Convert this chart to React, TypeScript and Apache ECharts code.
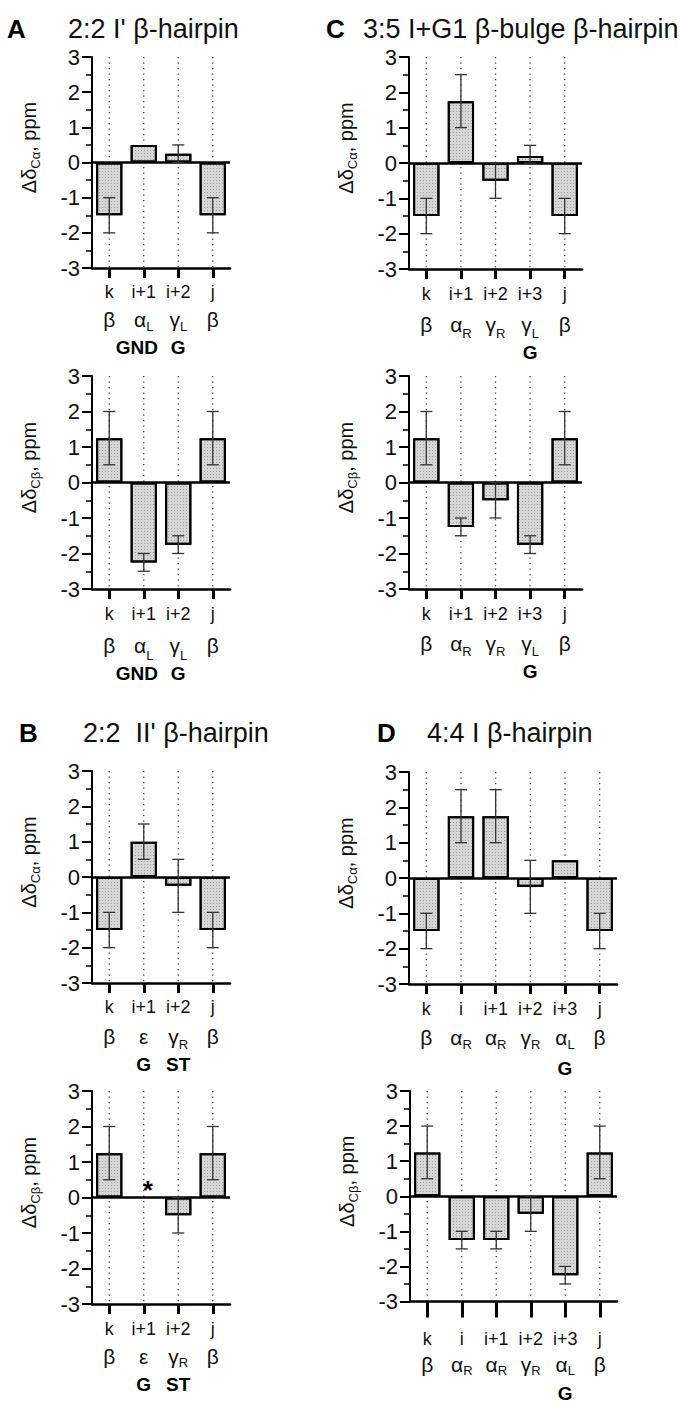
import React, { useEffect, useRef } from 'react';
import * as echarts from 'echarts';

const FONT = '"Liberation Sans", Arial, Helvetica, sans-serif';

// ---------- Panel A: 2:2 I' beta-hairpin ----------
const catsA = ['k', 'i+1', 'i+2', 'j'];
const confA = ['β', 'α_L', 'γ_L', 'β'];
const boldA = ['', 'GND', 'G', ''];
const caA = [-1.5, 0.5, 0.25, -1.5];
const caA_lo = [-2, null, 0, -2];
const caA_hi = [-1, null, 0.5, -1];
const cbA = [1.25, -2.25, -1.75, 1.25];
const cbA_lo = [0.5, -2.5, -2, 0.5];
const cbA_hi = [2, -2, -1.5, 2];

// ---------- Panel C: 3:5 I+G1 beta-bulge beta-hairpin ----------
const catsC = ['k', 'i+1', 'i+2', 'i+3', 'j'];
const confC = ['β', 'α_R', 'γ_R', 'γ_L', 'β'];
const boldC = ['', '', '', 'G', ''];
const caC = [-1.5, 1.75, -0.5, 0.2, -1.5];
const caC_lo = [-2, 1, -1, 0, -2];
const caC_hi = [-1, 2.5, 0, 0.5, -1];
const cbC = [1.25, -1.25, -0.5, -1.75, 1.25];
const cbC_lo = [0.5, -1.5, -1, -2, 0.5];
const cbC_hi = [2, -1, 0, -1.5, 2];

// ---------- Panel B: 2:2 II' beta-hairpin ----------
const catsB = ['k', 'i+1', 'i+2', 'j'];
const confB = ['β', 'ε', 'γ_R', 'β'];
const boldB = ['', 'G', 'ST', ''];
const caB = [-1.5, 1.0, -0.25, -1.5];
const caB_lo = [-2, 0.5, -1, -2];
const caB_hi = [-1, 1.5, 0.5, -1];
const cbB = [1.25, null, -0.5, 1.25];
const cbB_lo = [0.5, null, -1, 0.5];
const cbB_hi = [2, null, 0, 2];
const cbB_star = [null, 0.35, null, null];

// ---------- Panel D: 4:4 I beta-hairpin ----------
const catsD = ['k', 'i', 'i+1', 'i+2', 'i+3', 'j'];
const confD = ['β', 'α_R', 'α_R', 'γ_R', 'α_L', 'β'];
const boldD = ['', '', '', '', 'G', ''];
const caD = [-1.5, 1.75, 1.75, -0.25, 0.5, -1.5];
const caD_lo = [-2, 1, 1, -1, null, -2];
const caD_hi = [-1, 2.5, 2.5, 0.5, null, -1];
const cbD = [1.25, -1.25, -1.25, -0.5, -2.25, 1.25];
const cbD_lo = [0.5, -1.5, -1.5, -1, -2.5, 0.5];
const cbD_hi = [2, -1, -1, 0, -2, 2];

const titles = [
  { letter: 'A', text: "2:2 I' β-hairpin", lx: 7, tx: 68, y: 29 },
  { letter: 'C', text: '3:5 I+G1 β-bulge β-hairpin', lx: 326, tx: 363, y: 29 },
  { letter: 'B', text: "2:2  II' β-hairpin", lx: 19, tx: 83, y: 733 },
  { letter: 'D', text: '4:4 I β-hairpin', lx: 377, tx: 427, y: 733 },
];

type Panel = {
  cats: string[]; conf: string[]; bold: string[];
  vals: (number | null)[]; lo: (number | null)[]; hi: (number | null)[];
  star?: (number | null)[];
  nuc: 'α' | 'β';
  grid: { left: number; top: number; width: number; height: number };
  margin: number; lh: number[]; tickLen: number;
};

const panels: Panel[] = [
  { cats: catsA, conf: confA, bold: boldA, vals: caA, lo: caA_lo, hi: caA_hi, nuc: 'α',
    grid: { left: 92, top: 57, width: 138, height: 211 }, margin: 10, lh: [28, 27, 28], tickLen: 10 },
  { cats: catsA, conf: confA, bold: boldA, vals: cbA, lo: cbA_lo, hi: cbA_hi, nuc: 'β',
    grid: { left: 92, top: 376, width: 138, height: 213 }, margin: 11, lh: [28, 34, 22], tickLen: 10 },
  { cats: catsC, conf: confC, bold: boldC, vals: caC, lo: caC_lo, hi: caC_hi, nuc: 'α',
    grid: { left: 409, top: 57, width: 173, height: 212 }, margin: 11, lh: [28, 32, 24], tickLen: 10 },
  { cats: catsC, conf: confC, bold: boldC, vals: cbC, lo: cbC_lo, hi: cbC_hi, nuc: 'β',
    grid: { left: 409, top: 376, width: 173, height: 213 }, margin: 11, lh: [28, 30, 26], tickLen: 10 },
  { cats: catsB, conf: confB, bold: boldB, vals: caB, lo: caB_lo, hi: caB_hi, nuc: 'α',
    grid: { left: 92, top: 771, width: 138, height: 212 }, margin: 10, lh: [28, 30, 26], tickLen: 10 },
  { cats: catsB, conf: confB, bold: boldB, vals: cbB, lo: cbB_lo, hi: cbB_hi, star: cbB_star, nuc: 'β',
    grid: { left: 92, top: 1091, width: 138, height: 213 }, margin: 11, lh: [28, 26, 30], tickLen: 10 },
  { cats: catsD, conf: confD, bold: boldD, vals: caD, lo: caD_lo, hi: caD_hi, nuc: 'α',
    grid: { left: 409, top: 772, width: 208, height: 212 }, margin: 11, lh: [28, 28, 34], tickLen: 10 },
  { cats: catsD, conf: confD, bold: boldD, vals: cbD, lo: cbD_lo, hi: cbD_hi, nuc: 'β',
    grid: { left: 410, top: 1091, width: 207, height: 213 }, margin: 23, lh: [28, 24, 34], tickLen: 16 },
];

function buildOption() {
  const grid: any[] = [];
  const xAxis: any[] = [];
  const yAxis: any[] = [];
  const series: any[] = [];

  panels.forEach((p, i) => {
    grid.push({ ...p.grid, containLabel: false });
    xAxis.push({
      type: 'category', gridIndex: i, data: p.cats, position: 'bottom',
      axisLine: { show: true, onZero: false, lineStyle: { color: '#000', width: 2.5 } },
      axisTick: { show: true, alignWithLabel: true, interval: 0, length: p.tickLen, lineStyle: { color: '#000', width: 3 } },
      splitLine: { show: false },
      axisLabel: {
        interval: 0, margin: p.margin, color: '#111',
        formatter: (v: string, idx: number) => {
          const parts = p.conf[idx].split('_');
          let s = `{c|${v}}\n{g|${parts[0]}}`;
          if (parts[1]) s += `{s|${parts[1]}}`;
          const bt = p.bold[idx] || ' ';
          s += `\n{${bt.length >= 3 ? 'bw' : 'b'}|${bt}}`;
          return s;
        },
        rich: {
          c: { fontFamily: FONT, fontSize: 18, lineHeight: p.lh[0], color: '#111' },
          g: { fontFamily: FONT, fontSize: 21, lineHeight: p.lh[1], color: '#111' },
          s: { fontFamily: FONT, fontSize: 13, verticalAlign: 'bottom', color: '#111' },
          b: { fontFamily: FONT, fontSize: 19, fontWeight: 'bold', lineHeight: p.lh[2], color: '#000' },
          bw: { fontFamily: FONT, fontSize: 19, fontWeight: 'bold', lineHeight: p.lh[2], color: '#000', padding: [0, 14, 0, 0] },
        },
      },
    });
    yAxis.push({
      type: 'value', gridIndex: i, min: -3, max: 3, interval: 1,
      axisLine: { show: true, lineStyle: { color: '#000', width: 2 } },
      axisTick: { show: true, length: 10, lineStyle: { color: '#000', width: 2 } },
      minorTick: { show: true, splitNumber: 2, length: 6, lineStyle: { color: '#000', width: 1.5 } },
      splitLine: { show: false },
      axisLabel: { fontFamily: FONT, fontSize: 22, color: '#111', margin: 12 },
      name: `{d|Δδ}{s|C${p.nuc}}{d|, ppm}`,
      nameLocation: 'middle', nameGap: 50, nameRotate: 90,
      nameTextStyle: {
        padding: [0, 0, 0, 30],
        rich: {
          d: { fontFamily: FONT, fontSize: 20, lineHeight: 26, color: '#111' },
          s: { fontFamily: FONT, fontSize: 13, verticalAlign: 'bottom', color: '#111' },
        },
      },
    });

    // dotted vertical guide lines at each category
    series.push({
      type: 'custom', xAxisIndex: i, yAxisIndex: i, z: 1, silent: true,
      data: p.cats.map((_, j) => [j]),
      renderItem: (params: any, api: any) => {
        const j = api.value(0);
        const top = api.coord([j, 3]);
        const bot = api.coord([j, -3]);
        return {
          type: 'line',
          shape: { x1: top[0], y1: top[1], x2: bot[0], y2: bot[1] },
          style: { stroke: '#444', lineWidth: 1.3, lineDash: [1.3, 4.2] },
        };
      },
    });

    // bars
    series.push({
      type: 'bar', xAxisIndex: i, yAxisIndex: i, z: 2, barWidth: '76%',
      data: p.vals,
      itemStyle: {
        color: '#d6d6d6', borderColor: '#000', borderWidth: 2,
        decal: {
          symbol: 'rect', symbolSize: 1, color: 'rgba(60,60,60,0.35)',
          dashArrayX: [1, 2], dashArrayY: [1, 2], rotation: 0,
        },
      },
      markLine: {
        silent: true, symbol: ['none', 'none'], label: { show: false },
        lineStyle: { color: '#000', width: 2.5, type: 'solid' },
        data: [{ yAxis: 0 }],
      },
    });

    // error bars
    const errData: any[] = [];
    p.lo.forEach((lo, j) => {
      const hi = p.hi[j];
      if (lo !== null && hi !== null) errData.push([j, lo, hi]);
    });
    series.push({
      type: 'custom', xAxisIndex: i, yAxisIndex: i, z: 5, silent: true,
      data: errData,
      renderItem: (params: any, api: any) => {
        const j = api.value(0);
        const a = api.coord([j, api.value(1)]);
        const b = api.coord([j, api.value(2)]);
        const x = a[0];
        const hw = 6;
        const st = { stroke: '#333', lineWidth: 1.3 };
        return {
          type: 'group',
          children: [
            { type: 'line', shape: { x1: x, y1: a[1], x2: x, y2: b[1] }, style: st },
            { type: 'line', shape: { x1: x - hw, y1: a[1], x2: x + hw, y2: a[1] }, style: st },
            { type: 'line', shape: { x1: x - hw, y1: b[1], x2: x + hw, y2: b[1] }, style: st },
          ],
        };
      },
    });

    // asterisk marker
    if (p.star) {
      const sd: any[] = [];
      p.star.forEach((v, j) => { if (v !== null) sd.push([j, v]); });
      series.push({
        type: 'custom', xAxisIndex: i, yAxisIndex: i, z: 6, silent: true,
        data: sd,
        renderItem: (params: any, api: any) => {
          const c = api.coord([api.value(0), api.value(1)]);
          return {
            type: 'text', x: c[0] + 4, y: c[1] + 5,
            style: { text: '*', font: `bold 26px ${FONT}`, fill: '#000', align: 'center', verticalAlign: 'middle' },
          };
        },
      });
    }
  });

  const graphic: any[] = [];
  titles.forEach((t) => {
    graphic.push({ type: 'text', x: t.lx, y: t.y, style: { text: t.letter, font: `bold 26px ${FONT}`, fill: '#000', verticalAlign: 'middle' } });
    graphic.push({ type: 'text', x: t.tx, y: t.y, style: { text: t.text, font: `27px ${FONT}`, fill: '#111', verticalAlign: 'middle' } });
  });

  return { animation: false, backgroundColor: '#fff', grid, xAxis, yAxis, series, graphic };
}

export default function App() {
  const ref = useRef<HTMLDivElement>(null);
  useEffect(() => {
    const chart = echarts.init(ref.current!, null, { renderer: 'svg' });
    chart.setOption(buildOption() as any);
    return () => chart.dispose();
  }, []);
  return (
    <div
      ref={ref}
      style={{ position: 'absolute', left: 0, top: 0, width: 680, height: 1403, background: '#fff' }}
    />
  );
}
